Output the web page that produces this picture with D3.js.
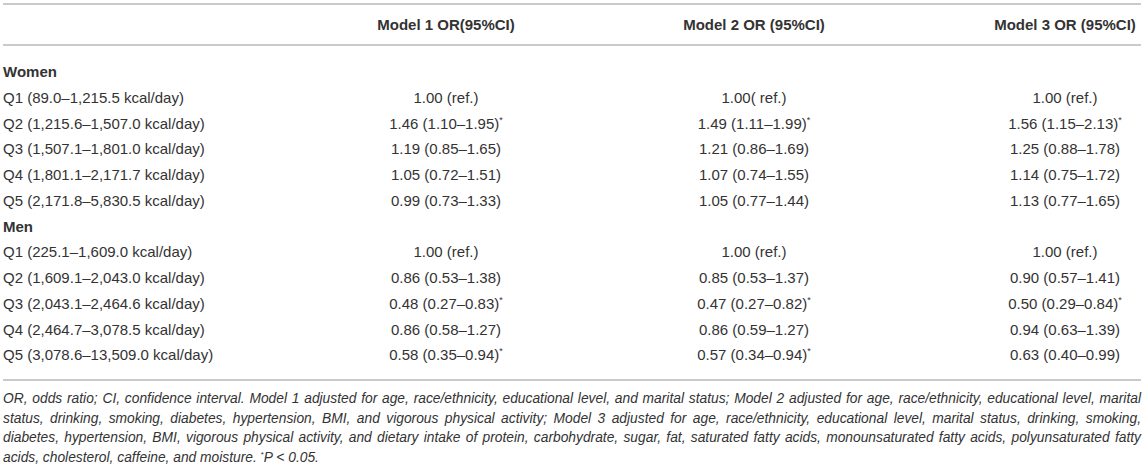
<!DOCTYPE html>
<html>
<head>
<meta charset="utf-8">
<script src="https://cdn.jsdelivr.net/npm/d3@7"></script>
<style>
  html, body { margin: 0; padding: 0; background: #fff; }
  svg { display: block; }
</style>
</head>
<body>
<svg id="chart" width="1145" height="468"></svg>
<script>
// ---------- data ----------
const headers = ["Model 1 OR(95%CI)", "Model 2 OR (95%CI)", "Model 3 OR (95%CI)"];
const groups = ["Women", "Men"];
const quintiles = ["Q1", "Q2", "Q3", "Q4", "Q5"];
const womenRanges = ["89.0–1,215.5", "1,215.6–1,507.0", "1,507.1–1,801.0", "1,801.1–2,171.7", "2,171.8–5,830.5"];
const menRanges = ["225.1–1,609.0", "1,609.1–2,043.0", "2,043.1–2,464.6", "2,464.7–3,078.5", "3,078.6–13,509.0"];
// [OR, lower, upper] per quintile (Q1 is reference)
const womenModel1 = [[1.00], [1.46, 1.10, 1.95], [1.19, 0.85, 1.65], [1.05, 0.72, 1.51], [0.99, 0.73, 1.33]];
const womenModel2 = [[1.00], [1.49, 1.11, 1.99], [1.21, 0.86, 1.69], [1.07, 0.74, 1.55], [1.05, 0.77, 1.44]];
const womenModel3 = [[1.00], [1.56, 1.15, 2.13], [1.25, 0.88, 1.78], [1.14, 0.75, 1.72], [1.13, 0.77, 1.65]];
const menModel1 = [[1.00], [0.86, 0.53, 1.38], [0.48, 0.27, 0.83], [0.86, 0.58, 1.27], [0.58, 0.35, 0.94]];
const menModel2 = [[1.00], [0.85, 0.53, 1.37], [0.47, 0.27, 0.82], [0.86, 0.59, 1.27], [0.57, 0.34, 0.94]];
const menModel3 = [[1.00], [0.90, 0.57, 1.41], [0.50, 0.29, 0.84], [0.94, 0.63, 1.39], [0.63, 0.40, 0.99]];
// significance flags (P < 0.05)
const womenSig1 = [0, 1, 0, 0, 0], womenSig2 = [0, 1, 0, 0, 0], womenSig3 = [0, 1, 0, 0, 0];
const menSig1 = [0, 0, 1, 0, 1], menSig2 = [0, 0, 1, 0, 1], menSig3 = [0, 0, 1, 0, 0];
// reference-cell labels as printed
const refLabels = [["1.00 (ref.)", "1.00( ref.)", "1.00 (ref.)"], ["1.00 (ref.)", "1.00 (ref.)", "1.00 (ref.)"]];
const footLines = [
  "OR, odds ratio; CI, confidence interval. Model 1 adjusted for age, race/ethnicity, educational level, and marital status; Model 2 adjusted for age, race/ethnicity, educational level, marital",
  "status, drinking, smoking, diabetes, hypertension, BMI, and vigorous physical activity; Model 3 adjusted for age, race/ethnicity, educational level, marital status, drinking, smoking,",
  "diabetes, hypertension, BMI, vigorous physical activity, and dietary intake of protein, carbohydrate, sugar, fat, saturated fatty acids, monounsaturated fatty acids, polyunsaturated fatty"
];
const footLast = ["acids, cholesterol, caffeine, and moisture. ", "*", "P < 0.05."];

// ---------- build rows ----------
const fmt = d3.format(".2f");
const rows = [];
[[womenRanges, [womenModel1, womenModel2, womenModel3], [womenSig1, womenSig2, womenSig3]],
 [menRanges, [menModel1, menModel2, menModel3], [menSig1, menSig2, menSig3]]].forEach(([ranges, models, sigs], g) => {
  rows.push({type: "group", label: groups[g]});
  quintiles.forEach((q, i) => {
    const cells = models.map((m, k) => {
      const v = m[i];
      if (v.length === 1) return {text: refLabels[g][k], sig: false};
      return {text: `${fmt(v[0])} (${fmt(v[1])}–${fmt(v[2])})`, sig: !!sigs[k][i]};
    });
    rows.push({type: "row", label: `${q} (${ranges[i]} kcal/day)`, cells});
  });
});

// ---------- layout ----------
const textColor = "#333333";
const ruleColor = "#b9b9b9";
const font = "'Liberation Sans', Arial, Helvetica, sans-serif";
const svg = d3.select("#chart").style("font-family", font);

const y = d3.scaleLinear().domain([0, rows.length - 1]).range([72, 355]);
const x = d3.scaleOrdinal().domain(headers).range([446, 754, 1065]);
const left = 3, right = 1141;

// rules
[4, 45, 380].forEach(yy => {
  svg.append("line").attr("x1", left).attr("x2", right).attr("y1", yy).attr("y2", yy)
    .attr("stroke", ruleColor).attr("stroke-width", 1.6);
});

// header
svg.selectAll("text.hdr").data(headers).join("text")
  .attr("class", "hdr")
  .attr("x", d => x(d)).attr("y", 25 + 5.3)
  .attr("text-anchor", "middle")
  .attr("font-size", 15).attr("font-weight", "bold").attr("fill", textColor)
  .text(d => d);

// rows
const rg = svg.selectAll("g.row").data(rows).join("g")
  .attr("class", "row")
  .attr("transform", (d, i) => `translate(0,${y(i) + 5.3})`);

rg.append("text")
  .attr("x", left)
  .attr("font-size", 15)
  .attr("font-weight", d => d.type === "group" ? "bold" : "normal")
  .attr("fill", textColor)
  .text(d => d.label);

rg.filter(d => d.type === "row").each(function(d) {
  const g = d3.select(this);
  d.cells.forEach((c, k) => {
    const t = g.append("text")
      .attr("x", x(headers[k]))
      .attr("text-anchor", "middle")
      .attr("font-size", 15)
      .attr("fill", textColor);
    t.append("tspan").text(c.text);
    if (c.sig) t.append("tspan").attr("font-size", 9).attr("dy", -6).text("*");
  });
});

// footnote
const footY = [398.5, 418, 437.5, 457].map(v => v + 4.9);
const fs = 13.8;
footLines.forEach((line, i) => {
  const t = svg.append("text")
    .attr("x", left).attr("y", footY[i])
    .attr("font-size", fs).attr("font-style", "italic").attr("fill", textColor)
    .text(line);
  const natural = t.node().getComputedTextLength();
  const spaces = (line.match(/ /g) || []).length;
  const ws = (right - left - natural) / spaces;
  t.attr("word-spacing", ws);
});
const last = svg.append("text")
  .attr("x", left).attr("y", footY[3])
  .attr("font-size", fs).attr("font-style", "italic").attr("fill", textColor);
last.append("tspan").text(footLast[0]);
last.append("tspan").attr("font-size", 8).attr("font-style", "normal").attr("dy", -5).text(footLast[1]);
last.append("tspan").attr("dy", 5).text(footLast[2]);
</script>
</body>
</html>
